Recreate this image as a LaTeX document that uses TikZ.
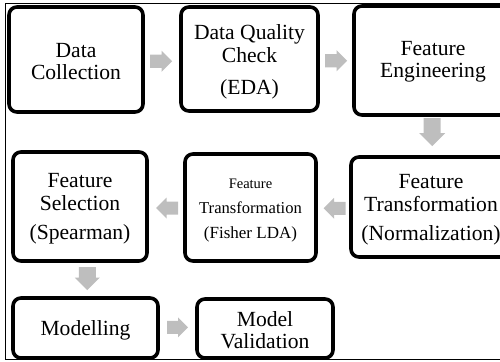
\documentclass[tikz,border=0pt]{standalone}
\usepackage{fontspec}
\setmainfont{Liberation Serif}
\usetikzlibrary{calc}
\definecolor{arrowgray}{HTML}{BEBEBE}
\begin{document}
\begin{tikzpicture}[x=1pt,y=-1pt,
  stage/.style={draw=black, line width=3.6pt, rounded corners=8pt, fill=white,
    inner sep=0pt},
  stagetext/.style={inner sep=0pt, align=center,
    font=\fontsize{21.6}{22.5}\selectfont},
  % block arrow: length / shaft width / head width, pointing along +x
  pics/grayarrow/.style args={#1/#2/#3}{code={
    \fill[arrowgray] (-#1/2,-#2/2) -- (#1/2-#3/2,-#2/2) -- (#1/2-#3/2,-#3/2)
      -- (#1/2,0) -- (#1/2-#3/2,#3/2) -- (#1/2-#3/2,#2/2) -- (-#1/2,#2/2) -- cycle;
  }}
]
\useasboundingbox (0,0) rectangle (500,361);
\clip (0,0) rectangle (500,361);

% outer frame
\draw[line width=1pt] (520,4) -- (5,4) -- (5,359) -- (520,359);

% process stages
\node[stage, minimum width=134pt, minimum height=105pt] (dc) at (76,59.5) {};
\node[stage, minimum width=137pt, minimum height=104pt] (dq) at (249.5,59) {};
\node[stage, minimum width=158pt, minimum height=109pt] (fe) at (433,60.5) {};
\node[stage, minimum width=160pt, minimum height=100pt] (nm) at (431,207) {};
\node[stage, minimum width=131pt, minimum height=107pt] (fl) at (250.5,207.5) {};
\node[stage, minimum width=134pt, minimum height=109pt] (fs) at (80,206.5) {};
\node[stage, minimum width=145pt, minimum height=60pt] (mo) at (85.5,328) {};
\node[stage, minimum width=136pt, minimum height=59pt] (mv) at (265,328.5) {};

% stage labels
\node[stagetext] (dc-text) at ($(dc)+(0,2)$) {Data\\Collection};
\node[stagetext] (dq-text) at ($(dq)+(0,3)$) {Data Quality\\Check\\[10pt](EDA)};
\node[stagetext] (fe-text) at ($(fe)+(0,1.5)$) {Feature\\Engineering};
\node[stagetext] (nm-text) at ($(nm)+(0,3)$) {Feature\\Transformation\\[7pt](Normalization)};
\node[stagetext] (fl-text) at ($(fl)+(0,3)$)
  {{\fontsize{14.5}{16}\selectfont Feature}\\[3pt]
   {\fontsize{16.6}{18}\selectfont Transformation}\\[2pt]
   {\fontsize{17}{18}\selectfont (Fisher LDA)}};
\node[stagetext] (fs-text) at ($(fs)+(0,2.5)$) {Feature\\Selection\\[7pt](Spearman)};
\node[stagetext] (mo-text) at ($(mo)+(0,2)$) {Modelling};
\node[stagetext] (mv-text) at ($(mv)+(0,1.5)$) {Model\\Validation};

% flow arrows
\pic (a1) at ($(dc.east)!0.5!(dq.west)+(-1,2)$) {grayarrow=22/13/21};
\pic (a2) at ($(dq.east)!0.5!(fe.west)+(0,1)$) {grayarrow=22/13/21};
\pic[rotate=-90] (a3) at ($(fe.south)!0.4!(nm.north)$) {grayarrow=28/17/26};
\pic[rotate=180] (a4) at ($(nm.west)!0.5!(fl.east)+(1,1)$) {grayarrow=22/13/21};
\pic[rotate=180] (a5) at ($(fl.west)!0.5!(fs.east)+(1,1)$) {grayarrow=22/13/21};
\pic[rotate=-90] (a6) at ($(fs.south)!0.5!(mo.north)+(4.5,-1)$) {grayarrow=23/17/25};
\pic (a7) at ($(mo.east)!0.5!(mv.west)+(0,-1)$) {grayarrow=21/13/20};
\end{tikzpicture}
\end{document}
